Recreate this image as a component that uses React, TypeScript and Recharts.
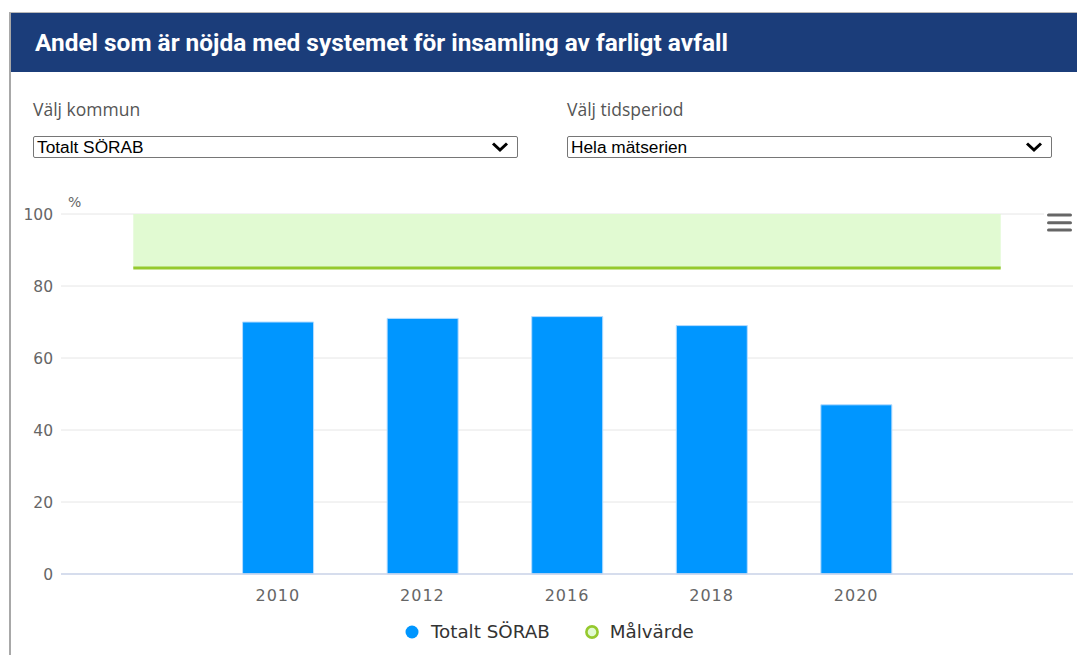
import React from 'react';
import { ComposedChart, Bar, Line, Area, XAxis, YAxis, CartesianGrid, Legend } from 'recharts';

const categories = ['', '2010', '2012', '2016', '2018', '2020', ''];
const totaltSorab = [null, 70, 71, 71.5, 69, 47, null];
const malvarde = [85, 85, 85, 85, 85, 85, 85];
const bandTop = [100, 100, 100, 100, 100, 100, 100];
const yTicks = [0, 20, 40, 60, 80, 100];

const data = categories.map((c, i) => ({
  year: c,
  sorab: totaltSorab[i],
  goal: malvarde[i],
  band: [malvarde[i], bandTop[i]],
}));

const BLUE = '#0096ff';
const GREEN = '#95c92e';
const BAND = '#e1fad2';

const Chevron = () => (
  <svg width="18" height="12" viewBox="0 0 18 12" style={{ position: 'absolute', right: 8, top: 4 }}>
    <polyline points="2,2.5 9,9 16,2.5" fill="none" stroke="#000" strokeWidth="3" strokeLinejoin="miter" />
  </svg>
);

const SelectBox = ({ left, width, text }: { left: number; width: number; text: string }) => (
  <div
    style={{
      position: 'absolute',
      left,
      top: 136,
      width,
      height: 22,
      border: '1px solid #767676',
      borderRadius: 2,
      boxSizing: 'border-box',
      background: '#fff',
      fontFamily: '"Liberation Sans", Arial, sans-serif',
      fontSize: 17.3,
      lineHeight: '20px',
      paddingLeft: 3,
      color: '#000',
      whiteSpace: 'nowrap',
    }}
  >
    {text}
    <Chevron />
  </div>
);

const LegendContent = () => (
  <div
    style={{
      display: 'flex',
      alignItems: 'center',
      fontFamily: '"DejaVu Sans", Verdana, sans-serif',
      fontSize: 18.3,
      color: '#333',
      whiteSpace: 'nowrap',
    }}
  >
    <svg width="14" height="14" style={{ marginRight: 12 }}>
      <circle cx="7" cy="7" r="6.5" fill={BLUE} />
    </svg>
    <span>Totalt SÖRAB</span>
    <svg width="16" height="16" style={{ marginLeft: 34, marginRight: 10 }}>
      <circle cx="8" cy="8" r="5.6" fill={BAND} stroke={GREEN} strokeWidth="2.6" />
    </svg>
    <span>Målvärde</span>
  </div>
);

const PercentLabel = (props: any) => {
  const vb = props.viewBox || {};
  return (
    <text
      x={vb.x + vb.width + 7}
      y={vb.y - 7}
      fontFamily='"DejaVu Sans", Verdana, sans-serif'
      fontSize={14}
      fill="#666"
    >
      %
    </text>
  );
};

export default function App() {
  return (
    <div
      style={{
        position: 'fixed',
        left: 0,
        top: 0,
        width: 1077,
        height: 655,
        overflow: 'hidden',
        background: '#fff',
      }}
    >
      {/* card border */}
      <div
        style={{
          position: 'absolute',
          left: 9,
          top: 12,
          width: 1100,
          height: 700,
          borderLeft: '2px solid #a8a8a8',
          borderTop: '1px solid #b8b8b8',
          boxSizing: 'border-box',
        }}
      />
      {/* header */}
      <div
        style={{
          position: 'absolute',
          left: 11,
          top: 13,
          width: 1066,
          height: 59,
          background: '#1b3d7a',
          color: '#fff',
          fontFamily: 'Roboto, "Open Sans", sans-serif',
          fontWeight: 700,
          fontSize: 24.4,
          lineHeight: '59px',
          paddingLeft: 24,
          boxSizing: 'border-box',
          whiteSpace: 'nowrap',
        }}
      >
        Andel som är nöjda med systemet för insamling av farligt avfall
      </div>
      {/* labels */}
      <div
        style={{
          position: 'absolute',
          left: 33,
          top: 97,
          fontFamily: '"Open Sans", sans-serif',
          fontSize: 17.5,
          color: '#555',
        }}
      >
        Välj kommun
      </div>
      <div
        style={{
          position: 'absolute',
          left: 567,
          top: 97,
          fontFamily: '"Open Sans", sans-serif',
          fontSize: 17.5,
          color: '#555',
        }}
      >
        Välj tidsperiod
      </div>
      <SelectBox left={33} width={485} text="Totalt SÖRAB" />
      <SelectBox left={567} width={485} text="Hela mätserien" />

      {/* chart */}
      <div style={{ position: 'absolute', left: 0, top: 190 }}>
        <ComposedChart
          width={1077}
          height={465}
          data={data}
          margin={{ top: 24, right: 4, bottom: 41, left: 0 }}
        >
          <CartesianGrid horizontal vertical={false} stroke="#e6e6e6" strokeWidth={1} />
          <XAxis
            dataKey="year"
            height={40}
            tickLine={false}
            axisLine={{ stroke: '#ccd6eb', strokeWidth: 1.5 }}
            tickMargin={10}
            interval={0}
            tick={{
              fill: '#666',
              fontSize: 16,
              fontFamily: '"DejaVu Sans", Verdana, sans-serif',
              letterSpacing: 1,
            }}
          />
          <YAxis
            width={61}
            domain={[0, 100]}
            ticks={yTicks}
            tickLine={false}
            axisLine={false}
            tick={{
              fill: '#666',
              fontSize: 15.5,
              fontFamily: '"DejaVu Sans", Verdana, sans-serif',
            }}
            label={{ content: PercentLabel }}
          />
          <Area
            dataKey="band"
            type="linear"
            fill={BAND}
            fillOpacity={1}
            stroke="none"
            isAnimationActive={false}
            legendType="none"
            activeDot={false}
          />
          <Line
            dataKey="goal"
            name="Målvärde"
            type="linear"
            stroke={GREEN}
            strokeWidth={3.2}
            dot={false}
            isAnimationActive={false}
          />
          <Bar
            dataKey="sorab"
            name="Totalt SÖRAB"
            fill={BLUE}
            stroke="#b5dcff"
            strokeWidth={1}
            barSize={71}
            isAnimationActive={false}
          />
          <Legend
            layout="horizontal"
            verticalAlign="middle"
            align="center"
            content={LegendContent}
            wrapperStyle={{ top: 431, left: 405, width: 320, height: 24 }}
          />
        </ComposedChart>
      </div>

      {/* menu icon */}
      <div style={{ position: 'absolute', left: 1044, top: 210, width: 32, height: 26, background: '#fff' }}>
        <svg width="32" height="26">
          <line x1="4.5" y1="5" x2="26.5" y2="5" stroke="#666" strokeWidth="3" strokeLinecap="round" />
          <line x1="4.5" y1="12.7" x2="26.5" y2="12.7" stroke="#666" strokeWidth="3" strokeLinecap="round" />
          <line x1="4.5" y1="20" x2="26.5" y2="20" stroke="#666" strokeWidth="3" strokeLinecap="round" />
        </svg>
      </div>
    </div>
  );
}
